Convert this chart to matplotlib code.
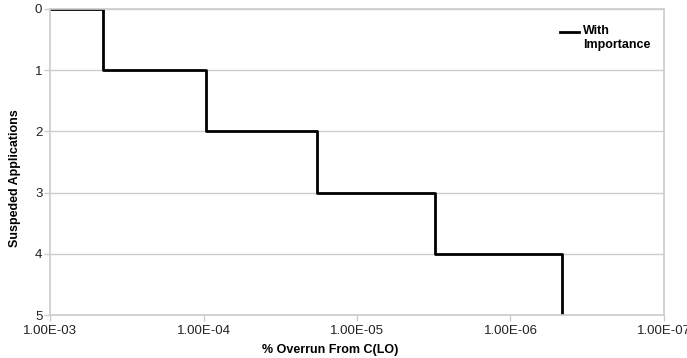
import matplotlib.pyplot as plt
from matplotlib.ticker import FuncFormatter, FixedLocator, NullLocator

plt.rcParams['font.family'] = ['Liberation Sans', 'DejaVu Sans']

# overrun thresholds and number of suspended applications
overrun = [1e-3, 4.5e-4, 9.6e-5, 1.83e-5, 3.1e-6, 4.6e-7]
suspended = [0, 1, 2, 3, 4, 5]
x_ticks = [1e-3, 1e-4, 1e-5, 1e-6, 1e-7]
y_ticks = [0, 1, 2, 3, 4, 5]

fig = plt.figure(figsize=(6.87, 3.58), dpi=100)
ax = fig.add_axes([0.0728, 0.120, 0.8937, 0.855])

ax.step(overrun, suspended, where='post', color='black', lw=2)

ax.set_xscale('log')
ax.set_xlim(1e-3, 1e-7)
ax.set_ylim(5, 0)
ax.xaxis.set_major_locator(FixedLocator(x_ticks))
ax.xaxis.set_minor_locator(NullLocator())
ax.xaxis.set_major_formatter(FuncFormatter(lambda v, p: f"{v:.2E}"))
ax.set_yticks(y_ticks)

ax.grid(axis='y', color='#cccccc', lw=1)
ax.set_axisbelow(True)
for s in ax.spines.values():
    s.set_color('#cccccc')
    s.set_linewidth(1.2)
ax.tick_params(axis='both', colors='#cccccc', labelcolor='#222222', labelsize=9.5, length=4, width=1)
ax.tick_params(axis='y', pad=1.5)

ax.set_xlabel('% Overrun From C(LO)', fontsize=9, fontweight='bold')
ax.xaxis.set_label_coords(0.456, -0.095)
ax.set_ylabel('Suspeded Applications', fontsize=9, fontweight='bold')
ax.yaxis.set_label_coords(-0.047, 0.448)

# legend drawn by hand so the line sits beside the first text line
ax.plot([0.831, 0.862], [0.925, 0.925], transform=ax.transAxes, color='black', lw=2, clip_on=False)
ax.text(0.868, 0.947, 'With\nImportance', transform=ax.transAxes, va='top', ha='left',
        fontsize=9, fontweight='bold', linespacing=1.15)

fig.savefig('out.png', dpi=100)
